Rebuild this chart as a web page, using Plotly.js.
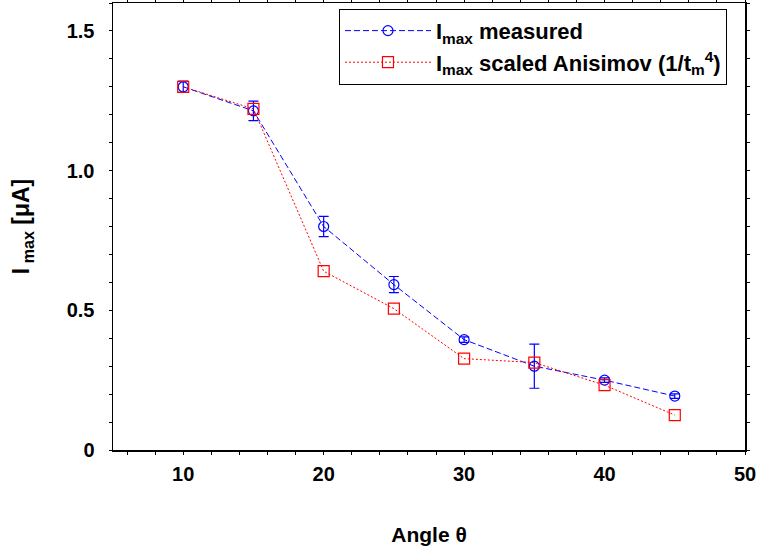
<!DOCTYPE html>
<html>
<head>
<meta charset="utf-8">
<script src="https://cdn.plot.ly/plotly-3.0.1.min.js"></script>
<style>html,body{margin:0;padding:0;background:#fff;}#chart{width:759px;height:552px;}</style>
</head>
<body>
<div id="chart"></div>
<script>
// Data
var angles = [10, 15, 20, 25, 30, 35, 40, 45];
var measured = [1.30, 1.214, 0.80, 0.592, 0.395, 0.30, 0.25, 0.193];
var measuredErr = [0.020, 0.035, 0.036, 0.029, 0.010, 0.079, 0.008, 0.008];
var anisimov = [1.30, 1.221, 0.640, 0.506, 0.327, 0.313, 0.232, 0.125];
var yTickVals = [0, 0.5, 1.0, 1.5];
var yTickText = ["0", "0.5", "1.0", "1.5"];
var xTickVals = [10, 20, 30, 40, 50];
var xTickText = ["10", "20", "30", "40", "50"];
var names = ["I<sub>max</sub> measured", "I<sub>max</sub> scaled Anisimov (1/t<sub>m</sub><sup>4</sup>)"];

var FONT = "Liberation Sans, Arial, Helvetica, sans-serif";

var traces = [
  {
    x: angles, y: measured, type: "scatter", mode: "lines+markers", name: names[0],
    line: {color: "#0000ff", width: 1, dash: "6px,3px"},
    marker: {symbol: "circle-open", size: 10, color: "#0000ff", line: {width: 1.2, color: "#0000ff"}},
    error_y: {type: "data", array: measuredErr, visible: true, color: "#0000ff", thickness: 1.2, width: 5}
  },
  {
    x: angles, y: anisimov, type: "scatter", mode: "lines+markers", name: names[1],
    line: {color: "#ff0000", width: 1, dash: "2px,2px"},
    marker: {symbol: "square-open", size: 11, color: "#ff0000", line: {width: 1.2, color: "#ff0000"}}
  }
];

var axisCommon = {
  showline: true, linecolor: "#000", linewidth: 1.5, mirror: "allticks",
  ticks: "outside", ticklen: 3, tickwidth: 1, tickcolor: "#000",
  showgrid: false, zeroline: false,
  tickfont: {family: FONT, size: 20, color: "#000", weight: "bold"}
};

var layout = {
  width: 759, height: 552,
  margin: {l: 113, r: 14, t: 3, b: 102},
  paper_bgcolor: "#fff", plot_bgcolor: "#fff",
  font: {family: FONT, color: "#000"},
  showlegend: true,
  xaxis: Object.assign({}, axisCommon, {
    range: [5, 50], tickmode: "array", tickvals: xTickVals, ticktext: xTickText,
    ticklabelstandoff: 2,
    minor: {dtick: 2, ticks: "outside", ticklen: 3, tickcolor: "#000", showgrid: false},
    title: {text: "Angle θ", font: {family: FONT, size: 21, color: "#000", weight: "bold"}, standoff: 44}
  }),
  yaxis: Object.assign({}, axisCommon, {
    range: [0, 1.6], tickmode: "array", tickvals: yTickVals, ticktext: yTickText,
    ticklabelstandoff: 10,
    minor: {dtick: 0.1, ticks: "outside", ticklen: 3, tickcolor: "#000", showgrid: false},
    title: {text: "I<sub> max</sub> [μA]", font: {family: FONT, size: 23, color: "#000", weight: "bold"}, standoff: 30}
  }),
  legend: {
    x: 0.9715, xanchor: "right", y: 0.987, yanchor: "top",
    bgcolor: "#fff", bordercolor: "#000", borderwidth: 1,
    font: {family: FONT, size: 22, color: "#000", weight: "bold"},
    itemwidth: 86, tracegroupgap: 0
  }
};

Plotly.newPlot("chart", traces, layout, {displayModeBar: false, staticPlot: true});
</script>
</body>
</html>
